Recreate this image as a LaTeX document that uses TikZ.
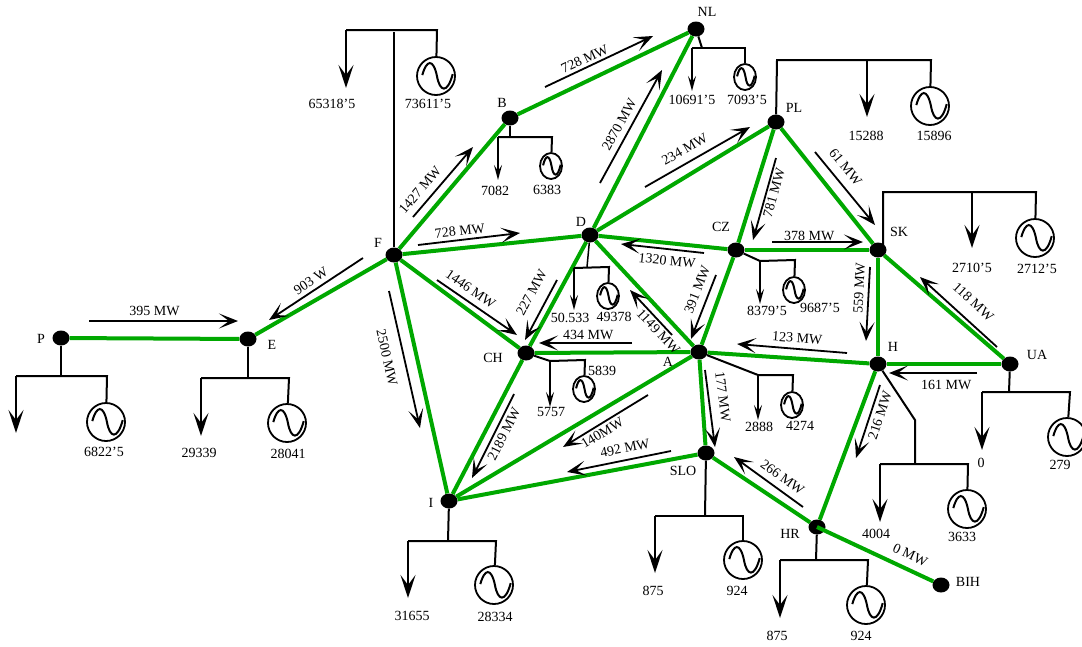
\documentclass[tikz,border=0pt]{standalone}
\usepackage{fontspec}
\setmainfont{Liberation Serif}
\usetikzlibrary{arrows.meta,shapes.geometric}
\definecolor{linegreen}{RGB}{0,168,0}

\newcommand{\sinewave}[2]{\draw[line width=2pt,shift={(path picture bounding box.center)},x=#1,y=#2]
	(-.72,.05) .. controls (-.5,.85) and (-.15,.95) .. (.05,0) .. controls (.2,-.85) and (.6,-.95) .. (.88,.1);}

\tikzset{
	bus/.style={ellipse,fill=black,minimum width=17pt,minimum height=15pt,inner sep=0pt},
	tie/.style={draw=linegreen,line width=4pt},
	feeder/.style={draw=black,line width=2pt},
	bigload/.style={draw=black,line width=2pt,-{Stealth[length=23pt,width=15pt,inset=10pt]}},
	smallload/.style={draw=black,line width=1.6pt,-{Stealth[length=15pt,width=8pt,inset=6pt]}},
	flow/.style={draw=black,line width=1.8pt,-{Stealth[length=19pt,width=15pt,inset=10pt]}},
	biggen/.style={circle,draw,line width=1.8pt,minimum size=38pt,inner sep=0pt,path picture={\sinewave{19pt}{19pt}}},
	smallgen/.style={ellipse,draw,line width=1.8pt,minimum width=22pt,minimum height=26pt,inner sep=0pt,path picture={\sinewave{11pt}{13pt}}},
	val/.style={inner sep=0pt},
	flowtext/.style={sloped,inner sep=#1}
}

\begin{document}
\begin{tikzpicture}[x=1pt,y=-1pt,every node/.append style={font=\fontsize{14}{16}\selectfont}]
	\useasboundingbox (0,0) rectangle (1082,646);

	% buses
	\node[bus] (NL) at (696,29) {};
	\node[bus] (B) at (510,118) {};
	\node[bus] (PL) at (776,122) {};
	\node[bus] (D) at (590,235) {};
	\node[bus] (CZ) at (736,250) {};
	\node[bus] (SK) at (878,250) {};
	\node[bus] (F) at (394,255) {};
	\node[bus] (E) at (248,339) {};
	\node[bus] (P) at (61,338) {};
	\node[bus] (CH) at (526,353) {};
	\node[bus] (A) at (699,352) {};
	\node[bus] (H) at (878,364) {};
	\node[bus] (UA) at (1010,364) {};
	\node[bus] (SLO) at (706,453) {};
	\node[bus] (I) at (449,501) {};
	\node[bus] (HR) at (817,527) {};
	\node[bus] (BIH) at (941,585) {};

	\node[val] (NLname) at (707,12) {NL};
	\node[val] (Bname) at (502,103) {B};
	\node[val] (PLname) at (794,108) {PL};
	\node[val] (Dname) at (581,222) {D};
	\node[val] (CZname) at (721,227) {CZ};
	\node[val] (SKname) at (899,232) {SK};
	\node[val] (Fname) at (378,243) {F};
	\node[val] (Ename) at (272,345) {E};
	\node[val] (Pname) at (41,339) {P};
	\node[val] (CHname) at (493,358) {CH};
	\node[val] (Aname) at (668,362) {A};
	\node[val] (Hname) at (893,347) {H};
	\node[val] (UAname) at (1037,355) {UA};
	\node[val] (SLOname) at (683,471) {SLO};
	\node[val] (Iname) at (431,503) {I};
	\node[val] (HRname) at (790,534) {HR};
	\node[val] (BIHname) at (968,582) {BIH};

	% lines between buses
	\path [tie] (P) edge[tie] (E);
	\path [tie] (E) edge[tie] (F);
	\path [tie] (F) edge[tie] (B);
	\path [tie] (B) edge[tie] (NL);
	\path [tie] (NL) edge[tie] (D);
	\path [tie] (F) edge[tie] (D);
	\path [tie] (F) edge[tie] (CH);
	\path [tie] (F) edge[tie] (I);
	\path [tie] (D) edge[tie] (PL);
	\path [tie] (D) edge[tie] (CZ);
	\path [tie] (D) edge[tie] (CH);
	\path [tie] (D) edge[tie] (A);
	\path [tie] (PL) edge[tie] (CZ);
	\path [tie] (PL) edge[tie] (SK);
	\path [tie] (CZ) edge[tie] (SK);
	\path [tie] (CZ) edge[tie] (A);
	\path [tie] (SK) edge[tie] (H);
	\path [tie] (SK) edge[tie] (UA);
	\path [tie] (H) edge[tie] (UA);
	\path [tie] (A) edge[tie] (H);
	\path [tie] (A) edge[tie] (CH);
	\path [tie] (A) edge[tie] (I);
	\path [tie] (A) edge[tie] (SLO);
	\path [tie] (CH) edge[tie] (I);
	\path [tie] (SLO) edge[tie] (I);
	\path [tie] (SLO) edge[tie] (HR);
	\path [tie] (H) edge[tie] (HR);
	\path [tie] (HR.center) edge[tie] node (HB) [flowtext=7.5pt,above,pos=.75] {0 MW} (BIH);

	% flows
	\coordinate (f1a) at (89,321); \coordinate (f1b) at (238,321);
	\draw [flow] (f1a) -- node (f1) [flowtext=4.5pt,above,pos=.44] {395 MW} (f1b);
	\coordinate (f2a) at (363,258); \coordinate (f2b) at (269,320);
	\draw [flow] (f2a) -- node (f2) [flowtext=3.9pt,above,pos=.5] {903 W} (f2b);
	\coordinate (f3a) at (413,217); \coordinate (f3b) at (473,147);
	\draw [flow] (f3a) -- node (f3) [flowtext=6.5pt,above,pos=.27] {1427 MW} (f3b);
	\coordinate (f4a) at (418,245); \coordinate (f4b) at (520,233);
	\draw [flow] (f4a) -- node (f4) [flowtext=3.3pt,above,pos=.42] {728 MW} (f4b);
	\coordinate (f5a) at (545,87); \coordinate (f5b) at (653,36);
	\draw [flow] (f5a) -- node (f5) [flowtext=2.6pt,above,pos=.4] {728 MW} (f5b);
	\coordinate (f6a) at (600,183); \coordinate (f6b) at (662,70);
	\draw [flow] (f6a) -- node (f6) [flowtext=5.7pt,above,pos=.47] {2870 MW} (f6b);
	\coordinate (f7a) at (645,187); \coordinate (f7b) at (750,127);
	\draw [flow] (f7a) -- node (f7) [flowtext=7.5pt,above,pos=.44] {234 MW} (f7b);
	\coordinate (f8a) at (776,158); \coordinate (f8b) at (753,240);
	\draw [flow] (f8a) -- node (f8) [flowtext=1.8pt,below,pos=.4] {781 MW} (f8b);
	\coordinate (f9a) at (815,152); \coordinate (f9b) at (875,225);
	\draw [flow] (f9a) -- node (f9) [flowtext=8.3pt,above,pos=.33] {61 MW} (f9b);
	\coordinate (f10a) at (772,242); \coordinate (f10b) at (863,242);
	\draw [flow] (f10a) -- node (f10) [flowtext=0pt,above,pos=.41] {378 MW} (f10b);
	\coordinate (f11a) at (704,253); \coordinate (f11b) at (621,244);
	\draw [flow] (f11a) -- node (f11) [flowtext=6pt,below,pos=.43] {1320 MW} (f11b);
	\coordinate (f12a) at (716,275); \coordinate (f12b) at (691,339);
	\draw [flow] (f12a) -- node (f12) [flowtext=6.5pt,above,pos=.3] {391 MW} (f12b);
	\coordinate (f13a) at (557,280); \coordinate (f13b) at (525,340);
	\draw [flow] (f13a) -- node (f13) [flowtext=11pt,above,pos=.34] {227 MW} (f13b);
	\coordinate (f14a) at (437,280); \coordinate (f14b) at (517,335);
	\draw [flow] (f14a) -- node (f14) [flowtext=5.7pt,above,pos=.34] {1446 MW} (f14b);
	\coordinate (f15a) at (632,343); \coordinate (f15b) at (539,343);
	\draw [flow] (f15a) -- node (f15) [flowtext=2.3pt,above,pos=.47] {434 MW} (f15b);
	\coordinate (f16a) at (672,335); \coordinate (f16b) at (630,290);
	\draw [flow] (f16a) -- node (f16) [flowtext=2pt,below,pos=.19] {1149 MW} (f16b);
	\coordinate (f17a) at (847,353); \coordinate (f17b) at (737,344);
	\draw [flow] (f17a) -- node (f17) [flowtext=5pt,above,pos=.46] {123 MW} (f17b);
	\coordinate (f18a) at (870,267); \coordinate (f18b) at (866,341);
	\draw [flow] (f18a) -- node (f18) [flowtext=4pt,above,pos=.29] {559 MW} (f18b);
	\coordinate (f19a) at (997,347); \coordinate (f19b) at (920,277);
	\draw [flow] (f19a) -- node (f19) [flowtext=11.7pt,above,pos=.46] {118 MW} (f19b);
	\coordinate (f20a) at (977,373); \coordinate (f20b) at (889,373);
	\draw [flow] (f20a) -- node (f20) [flowtext=6pt,below,pos=.35] {161 MW} (f20b);
	\coordinate (f21a) at (880,385); \coordinate (f21b) at (856,458);
	\draw [flow] (f21a) -- node (f21) [flowtext=3.7pt,below,pos=.375] {216 MW} (f21b);
	\coordinate (f22a) at (705,370); \coordinate (f22b) at (715,447);
	\draw [flow] (f22a) -- node (f22) [flowtext=8.6pt,above,pos=.37] {177 MW} (f22b);
	\coordinate (f23a) at (803,507); \coordinate (f23b) at (734,457);
	\draw [flow] (f23a) -- node (f23) [flowtext=6.4pt,above,pos=.4] {266 MW} (f23b);
	\coordinate (f24a) at (671,451); \coordinate (f24b) at (567,472);
	\draw [flow] (f24a) -- node (f24) [flowtext=6.3pt,above,pos=.42] {492 MW} (f24b);
	\coordinate (f25a) at (648,395); \coordinate (f25b) at (563,447);
	\draw [flow] (f25a) -- node (f25) [flowtext=2.8pt,below,pos=.59] {140MW} (f25b);
	\coordinate (f26a) at (514,394); \coordinate (f26b) at (472,478);
	\draw [flow] (f26a) -- node (f26) [flowtext=3.3pt,below,pos=.43] {2189 MW} (f26b);
	\coordinate (f27a) at (389,291); \coordinate (f27b) at (420,428);
	\draw [flow] (f27a) -- node (f27) [flowtext=11pt,below,pos=.46] {2500 MW} (f27b);

	% feeders, loads and generators
	\node[biggen] (Fgen) at (436,76) {};
	\node[val] (Fout) at (332,104) {65318’5};
	\node[val] (Fin) at (428,104) {73611’5};
	\coordinate (Ftop) at (394,32); \coordinate (Fl) at (346,30); \coordinate (Fr) at (437,30); \coordinate (Fload) at (346,88);
	\draw [feeder,line width=1.5pt] (F) -- (Ftop);
	\draw [feeder] (Fgen) -- (Fr) -- (Fl);
	\draw [bigload] (Fl) -- (Fload);

	\node[smallgen] (Bgen) at (551,166) {};
	\node[val] (Bout) at (495,191) {7082};
	\node[val] (Bin) at (547,190) {6383};
	\coordinate (Btop) at (510,137); \coordinate (Bl) at (498,137); \coordinate (Br) at (552,137); \coordinate (Bload) at (498,180);
	\draw [feeder] (B) -- (Btop);
	\draw [feeder] (Bgen) -- (Br) -- (Bl);
	\draw [smallload] (Bl) -- (Bload);

	\node[smallgen] (NLgen) at (745,77) {};
	\node[val] (NLout) at (692,100) {10691’5};
	\node[val] (NLin) at (747,100) {7093’5};
	\coordinate (NLtop) at (702,48); \coordinate (NLl) at (692,48); \coordinate (NLr) at (745,48); \coordinate (NLload) at (692,91);
	\draw [feeder] (NL) -- (NLtop);
	\draw [feeder] (NLgen) -- (NLr) -- (NLl);
	\draw [smallload] (NLl) -- (NLload);

	\node[biggen] (PLgen) at (930,106) {};
	\node[val] (PLout) at (866,136) {15288};
	\node[val] (PLin) at (934,136) {15896};
	\coordinate (PLtop) at (777,60); \coordinate (PLm) at (867,60); \coordinate (PLr) at (931,60); \coordinate (PLload) at (867,117);
	\draw [feeder] (PL) -- (PLtop) -- (PLr) -- (PLgen);
	\draw [bigload] (PLm) -- (PLload);

	\node[biggen] (SKgen) at (1035,238) {};
	\node[val] (SKout) at (972,268) {2710’5};
	\node[val] (SKin) at (1037,269) {2712’5};
	\coordinate (SKbase) at (883,246); \coordinate (SKtop) at (883,192); \coordinate (SKm) at (972,192); \coordinate (SKr) at (1036,192); \coordinate (SKload) at (972,248);
	\draw [feeder] (SKbase) -- (SKtop) -- (SKr) -- (SKgen);
	\draw [bigload] (SKm) -- (SKload);

	\node[smallgen] (CZgen) at (794,290) {};
	\node[val] (CZout) at (767,311) {8379’5};
	\node[val] (CZin) at (820,308) {9687’5};
	\coordinate (CZl) at (760,261); \coordinate (CZr) at (795,260); \coordinate (CZload) at (760,304);
	\draw [feeder] (CZ) -- (CZl) -- (CZr) -- (CZgen);
	\draw [smallload] (CZl) -- (CZload);

	\node[smallgen] (Dgen) at (608,296) {};
	\node[val] (Dout) at (570,318) {50.533};
	\node[val] (Din) at (614,317) {49378};
	\coordinate (Dtop) at (587,267); \coordinate (Dl) at (574,268); \coordinate (Dr) at (609,267); \coordinate (Dload) at (574,310);
	\draw [feeder,line width=1.5pt] (D) -- (Dtop);
	\draw [feeder] (Dgen) -- (Dr) -- (Dl);
	\draw [smallload] (Dl) -- (Dload);

	\node[smallgen] (CHgen) at (584,389) {};
	\node[val] (CHout) at (551,412) {5757};
	\node[val] (CHin) at (602,371) {5839};
	\coordinate (CHl) at (550,361); \coordinate (CHr) at (585,360); \coordinate (CHload) at (550,407);
	\draw [feeder] (CH) -- (CHl) -- (CHr) -- (CHgen);
	\draw [smallload] (CHl) -- (CHload);

	\node[smallgen] (Agen) at (792,405) {};
	\node[val] (Aout) at (759,427) {2888};
	\node[val] (Ain) at (800,426) {4274};
	\coordinate (Al) at (758,375); \coordinate (Ar) at (793,375); \coordinate (Aload) at (758,420);
	\draw [feeder] (A) -- (Al) -- (Ar) -- (Agen);
	\draw [smallload] (Al) -- (Aload);

	\node[biggen] (Hgen) at (967,509) {};
	\node[val] (Hout) at (876,534) {4004};
	\node[val] (Hin) at (962,537) {3633};
	\coordinate (Hbend) at (915,420); \coordinate (Htop) at (915,464); \coordinate (Hl) at (880,464); \coordinate (Hr) at (968,464); \coordinate (Hload) at (880,522);
	\draw [feeder] (H) -- (Hbend) -- (Htop);
	\draw [feeder] (Hgen) -- (Hr) -- (Hl);
	\draw [bigload] (Hl) -- (Hload);

	\node[biggen] (UAgen) at (1067,437) {};
	\node[val] (UAout) at (981,463) {0};
	\node[val] (UAin) at (1060,465) {279};
	\coordinate (UAtop) at (1009,392); \coordinate (UAl) at (982,392); \coordinate (UAr) at (1070,392); \coordinate (UAload) at (982,450);
	\draw [feeder] (UA) -- (UAtop);
	\draw [feeder] (UAgen) -- (UAr) -- (UAl);
	\draw [bigload] (UAl) -- (UAload);

	\node[biggen] (HRgen) at (866,605) {};
	\node[val] (HRout) at (777,636) {875};
	\node[val] (HRin) at (861,636) {924};
	\coordinate (HRtop) at (816,560); \coordinate (HRl) at (780,560); \coordinate (HRr) at (868,560); \coordinate (HRload) at (780,618);
	\draw [feeder] (HR) -- (HRtop);
	\draw [feeder] (HRgen) -- (HRr) -- (HRl);
	\draw [bigload] (HRl) -- (HRload);

	\node[biggen] (SLOgen) at (743,560) {};
	\node[val] (SLOout) at (653,591) {875};
	\node[val] (SLOin) at (737,591) {924};
	\coordinate (SLOtop) at (705,516); \coordinate (SLOl) at (655,516); \coordinate (SLOr) at (743,516); \coordinate (SLOload) at (655,573);
	\draw [feeder] (SLO) -- (SLOtop);
	\draw [feeder] (SLOgen) -- (SLOr) -- (SLOl);
	\draw [bigload] (SLOl) -- (SLOload);

	\node[biggen] (Igen) at (494,585) {};
	\node[val] (Iout) at (412,616) {31655};
	\node[val] (Iin) at (495,617) {28334};
	\coordinate (Itop) at (448,541); \coordinate (Il) at (408,541); \coordinate (Ir) at (496,541); \coordinate (Iload) at (408,598);
	\draw [feeder] (I) -- (Itop);
	\draw [feeder] (Igen) -- (Ir) -- (Il);
	\draw [bigload] (Il) -- (Iload);

	\node[biggen] (Egen) at (287,423) {};
	\node[val] (Eout) at (199,453) {29339};
	\node[val] (Ein) at (288,454) {28041};
	\coordinate (Etop) at (248,378); \coordinate (El) at (201,378); \coordinate (Er) at (289,378); \coordinate (Eload) at (201,436);
	\draw [feeder] (E) -- (Etop);
	\draw [feeder] (Egen) -- (Er) -- (El);
	\draw [bigload] (El) -- (Eload);

	\node[biggen] (Pgen) at (106,422) {};
	\node[val] (Pin) at (104,452) {6822’5};
	\coordinate (Ptop) at (61,376); \coordinate (Pl) at (16,376); \coordinate (Pr) at (107,376); \coordinate (Pload) at (16,433);
	\draw [feeder] (P) -- (Ptop);
	\draw [feeder] (Pgen) -- (Pr) -- (Pl);
	\draw [bigload] (Pl) -- (Pload);
\end{tikzpicture}
\end{document}
